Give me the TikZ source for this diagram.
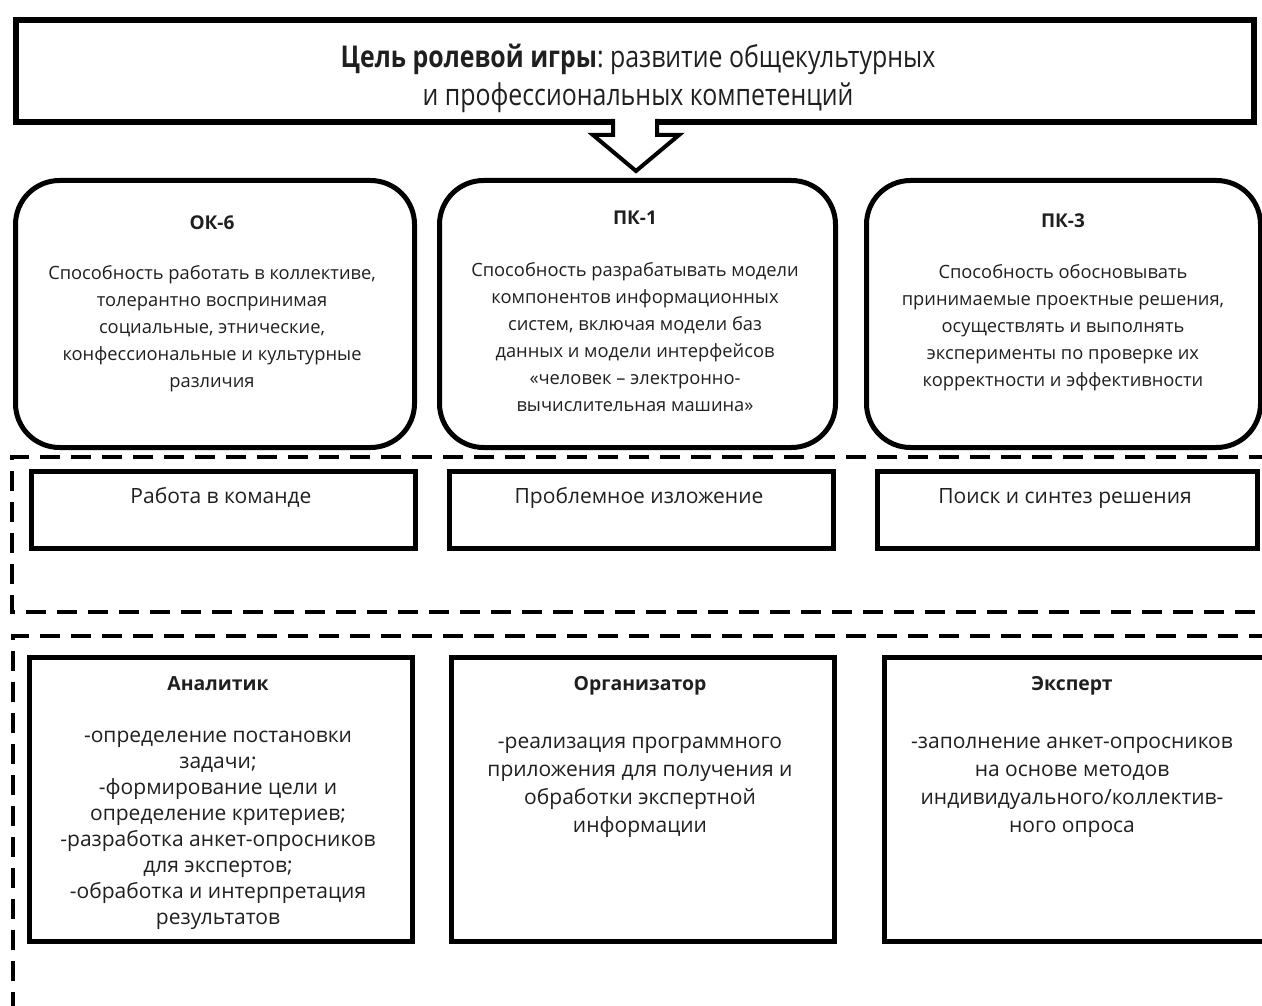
\documentclass[tikz,border=0pt]{standalone}
\usepackage{fontspec}
\setmainfont{Open Sans}
\newfontfamily\titlefont[FakeStretch=0.83]{Open Sans}
\frenchspacing
\begin{document}
\begin{tikzpicture}[x=1pt,y=-1pt,
  txt/.style={inner sep=0pt, anchor=north, align=center, text=black!88},
  line/.style={inner sep=0pt, anchor=base, text=black!88},
  goalbox/.style={draw, line width=6pt, inner sep=0pt, anchor=north west},
  compbox/.style={draw, line width=5pt, rounded corners=44pt, inner sep=0pt, anchor=north west},
  plainbox/.style={draw, line width=5pt, inner sep=0pt, anchor=north west},
  groupbox/.style={draw, line width=4.5pt, dash pattern=on 20pt off 11pt},
  blockarrow/.style={draw, line width=4pt, fill=white, line join=miter},
  headfont/.style={font=\bfseries\fontsize{19}{24}\selectfont},
  compfont/.style={font=\fontsize{18.3}{27}\selectfont},
  rolehead/.style={font=\bfseries\fontsize{19.4}{24}\selectfont},
  rolefont/.style={font=\fontsize{21}{28}\selectfont}]
\useasboundingbox (0,0) rectangle (1262,1006);
\clip (0,0) rectangle (1262,1006);

% goal of the game
\node[goalbox, minimum width=1238pt, minimum height=102pt] (goal) at (13,17) {};
\node[txt, font=\titlefont\fontsize{30}{38}\selectfont] (goaltxt) at (638,41)
  {\strut\textbf{Цель ролевой игры}: развитие общекультурных\\и профессиональных компетенций};

% block arrow from the goal down to the competences
\fill[white] (616,114) rectangle (654,124);
\draw[blockarrow] (613,119) -- (613,135) -- (593,135) -- (636,171) -- (679,135) -- (657,135) -- (657,119);

% competences
\node[compbox, minimum width=399pt, minimum height=267pt] (ok6) at (13,178) {};
\node[compbox, minimum width=396pt, minimum height=267pt] (pk1) at (437,178) {};
\node[compbox, minimum width=394pt, minimum height=267pt] (pk3) at (864,178) {};

\node[line, headfont] (ok6h) at (212,229.5) {ОК-6};
\node[txt, compfont] (ok6t) at (212,260)
  {\strut Способность работать в коллективе,\\толерантно воспринимая\\социальные, этнические,\\конфессиональные и культурные\\различия};
\node[line, headfont] (pk1h) at (635,224.5) {ПК-1};
\node[txt, compfont] (pk1t) at (635,257)
  {\strut Способность разрабатывать модели\\компонентов информационных\\систем, включая модели баз\\данных и модели интерфейсов\\«человек – электронно-\\вычислительная машина»};
\node[line, headfont] (pk3h) at (1063,227.5) {ПК-3};
\node[txt, compfont] (pk3t) at (1063,259)
  {\strut Способность обосновывать\\принимаемые проектные решения,\\осуществлять и выполнять\\эксперименты по проверке их\\корректности и эффективности};

% teaching methods
\draw[groupbox] (1300,457) -- (12,457) -- (12,612) -- (1300,612);
\node[plainbox, minimum width=384pt, minimum height=77pt] (team) at (29,469) {};
\node[plainbox, minimum width=384pt, minimum height=77pt] (probl) at (447,469) {};
\node[plainbox, minimum width=380pt, minimum height=77pt] (search) at (875,469) {};
\node[line, rolefont] at (221,503) {Работа в команде};
\node[line, rolefont] at (639,503) {Проблемное изложение};
\node[line, rolefont] at (1065,503) {Поиск и синтез решения};

% roles
\draw[groupbox] (1300,636) -- (13,636) -- (13,1030);
\node[plainbox, minimum width=383pt, minimum height=284pt] (analyst) at (27,655) {};
\node[plainbox, minimum width=383pt, minimum height=284pt] (organizer) at (449,655) {};
\node[plainbox, minimum width=420pt, minimum height=284pt] (expert) at (882,655) {};

\node[line, rolehead] at (218,690) {Аналитик};
\node[txt, font=\fontsize{21}{26}\selectfont] at (218,724.5)
  {\strut-определение постановки\\задачи;\\-формирование цели и\\определение критериев;\\-разработка анкет-опросников\\для экспертов;\\-обработка и интерпретация\\результатов};
\node[line, rolehead] at (640,690) {Организатор};
\node[txt, rolefont] at (640,729)
  {\strut-реализация программного\\приложения для получения и\\обработки экспертной\\информации};
\node[line, rolehead] at (1072,690) {Эксперт};
\node[txt, rolefont] at (1072,729)
  {\strut-заполнение анкет-опросников\\на основе методов\\индивидуального/коллектив-\\ного опроса};
\end{tikzpicture}
\end{document}
